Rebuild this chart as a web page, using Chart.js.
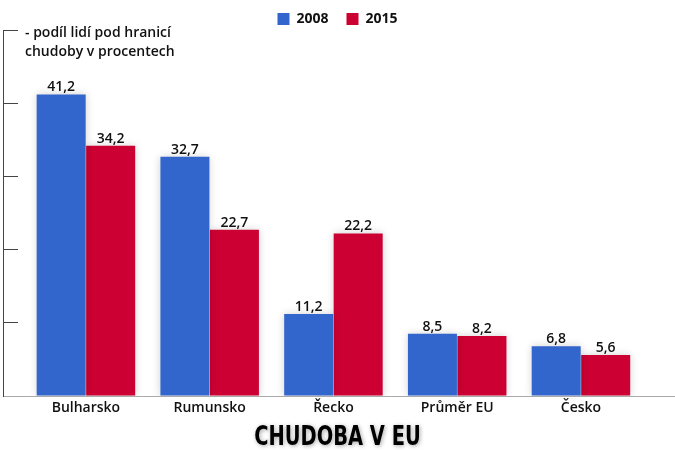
<!DOCTYPE html>
<html>
<head>
<meta charset="utf-8">
<script src="https://cdn.jsdelivr.net/npm/chart.js@4"></script>
<style>
  html, body { margin: 0; padding: 0; background: #fff; }
  #wrap { width: 675px; height: 450px; }
</style>
</head>
<body>
<div id="wrap"><canvas id="myChart"></canvas></div>
<script>
const categories = ['Bulharsko', 'Rumunsko', 'Řecko', 'Průměr EU', 'Česko'];
const values2008 = [41.2, 32.7, 11.2, 8.5, 6.8];
const values2015 = [34.2, 22.7, 22.2, 8.2, 5.6];
const seriesNames = ['2008', '2015'];
const yTicks = [0, 10, 20, 30, 40, 50];
const axisNote = ['- podíl lidí pod hranicí', 'chudoby v procentech'];
const chartTitle = 'CHUDOBA V EU';

const fontName = "'Open Sans', 'Noto Sans', sans-serif";

// values above the bars, with Czech decimal comma
const valueLabels = {
  id: 'valueLabels',
  afterDatasetsDraw(chart) {
    const ctx = chart.ctx;
    ctx.save();
    ctx.font = '600 14px ' + fontName;
    ctx.fillStyle = '#111';
    ctx.textAlign = 'center';
    ctx.textBaseline = 'alphabetic';
    chart.data.datasets.forEach((ds, i) => {
      chart.getDatasetMeta(i).data.forEach((bar, j) => {
        const txt = ds.data[j].y.toFixed(1).replace('.', ',');
        ctx.fillText(txt, bar.x, bar.y - 3);
      });
    });
    ctx.restore();
  },
};

// note next to the top of the y axis
const axisText = {
  id: 'axisText',
  afterDraw(chart) {
    const ctx = chart.ctx;
    const y = chart.scales.y.getPixelForValue(50);
    ctx.save();
    ctx.font = '600 14px ' + fontName;
    ctx.fillStyle = '#111';
    ctx.textAlign = 'left';
    ctx.textBaseline = 'middle';
    ctx.fillText(axisNote[0], chart.chartArea.left + 22, y + 3);
    ctx.fillText(axisNote[1], chart.chartArea.left + 22, y + 22);
    ctx.restore();
  },
};

// the title box keeps its place, the text itself is drawn narrow with a glow
const narrowTitle = {
  id: 'narrowTitle',
  afterDraw(chart) {
    const box = chart.titleBlock;
    const ctx = chart.ctx;
    const cx = chart.width / 2;
    const cy = box.top + box.options.padding.top + box.options.font.size / 2 + 1;
    ctx.save();
    ctx.translate(cx, cy);
    ctx.scale(0.72, 1);
    ctx.font = "bold 27px 'DejaVu Sans', sans-serif";
    ctx.textAlign = 'center';
    ctx.textBaseline = 'middle';
    ctx.shadowColor = 'rgba(0,0,0,0.35)';
    ctx.shadowBlur = 4;
    ctx.shadowOffsetX = 1;
    ctx.shadowOffsetY = 1;
    ctx.fillStyle = '#000';
    ctx.fillText(chartTitle, 0, 0);
    ctx.restore();
  },
};

// soft shadow round the bars
const barShadow = {
  id: 'barShadow',
  beforeDatasetsDraw(chart) {
    const ctx = chart.ctx;
    ctx.save();
    ctx.shadowColor = 'rgba(0,0,0,0.18)';
    ctx.shadowBlur = 8;
  },
  afterDatasetsDraw(chart) {
    chart.ctx.restore();
  },
};

const ctx = document.getElementById('myChart').getContext('2d');
const myChart = new Chart(ctx, {
  type: 'bar',
  data: {
    datasets: [
      {
        label: seriesNames[0],
        data: values2008.map((v, i) => ({ x: i, y: v })),
        backgroundColor: '#3366cc',
      },
      {
        label: seriesNames[1],
        data: values2015.map((v, i) => ({ x: i, y: v })),
        backgroundColor: '#cc0033',
      },
    ],
  },
  options: {
    responsive: true,
    maintainAspectRatio: false,
    animation: false,
    categoryPercentage: 0.8,
    barPercentage: 0.99,
    layout: { padding: { left: 0, right: 0, top: -6, bottom: 0 } },
    plugins: {
      legend: {
        position: 'top',
        maxHeight: 36,
        labels: {
          boxWidth: 12,
          boxHeight: 12,
          padding: 18,
          color: '#111',
          font: { family: fontName, size: 14, weight: 'bold' },
        },
      },
      title: {
        display: true,
        position: 'bottom',
        text: chartTitle,
        color: 'rgba(0,0,0,0)',
        padding: { top: 9, bottom: 1 },
        font: { family: "'DejaVu Sans', sans-serif", size: 25, weight: 'bold', lineHeight: 1 },
      },
      tooltip: { enabled: false },
    },
    scales: {
      x: {
        type: 'linear',
        offset: false,
        min: -0.67,
        max: 4.76,
        afterBuildTicks: (s) => {
          s.ticks = categories.map((c, i) => ({ value: i }));
        },
        afterFit: (s) => {
          s.height = 19;
        },
        ticks: {
          callback: (v) => categories[v],
          color: '#111',
          padding: 5,
          autoSkip: false,
          maxRotation: 0,
          font: { family: fontName, size: 14, weight: '600', lineHeight: 1 },
        },
        grid: { display: false, drawTicks: false, offset: false },
        border: { display: true, color: '#aaa', width: 1 },
      },
      y: {
        min: 0,
        max: 50,
        afterBuildTicks: (s) => {
          s.ticks = yTicks.map((v) => ({ value: v }));
        },
        afterFit: (s) => {
          s.width = 3;
        },
        ticks: { display: false },
        grid: {
          drawOnChartArea: false,
          drawTicks: true,
          tickLength: -15,
          color: '#444',
          lineWidth: 1,
        },
        border: { display: true, color: '#444', width: 1 },
      },
    },
  },
  plugins: [barShadow, valueLabels, axisText, narrowTitle],
});
</script>
</body>
</html>
